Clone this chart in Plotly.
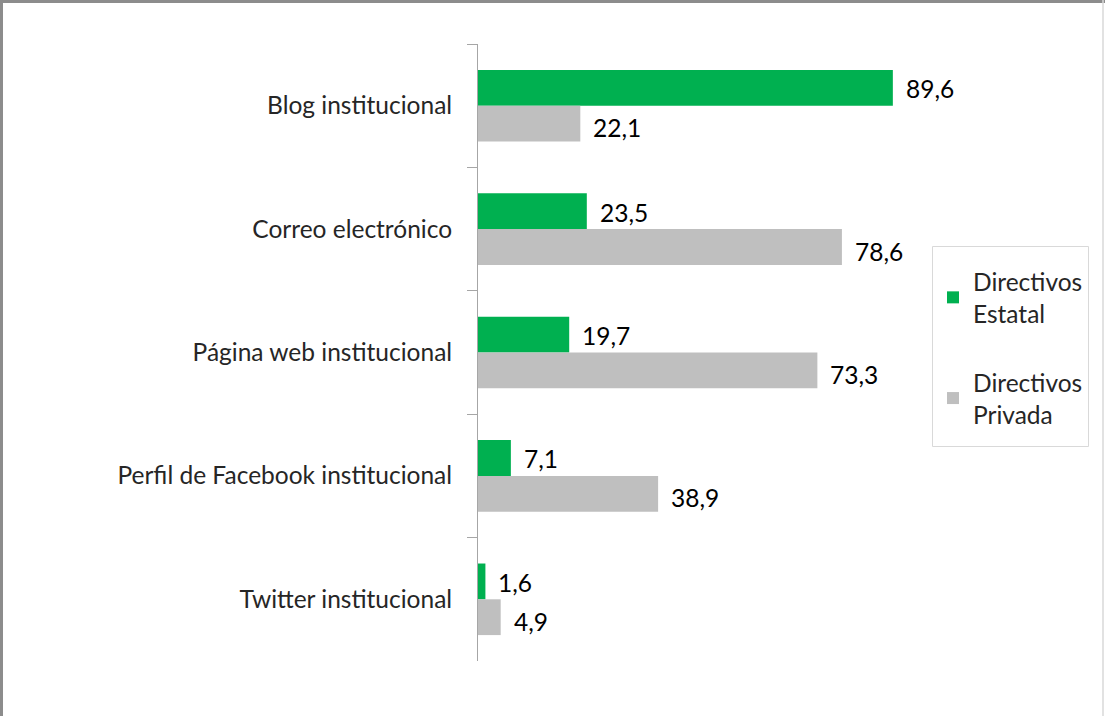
import plotly.graph_objects as go

categories = ["Blog institucional", "Correo electrónico", "Página web institucional",
              "Perfil de Facebook institucional", "Twitter institucional"]
estatal = [89.6, 23.5, 19.7, 7.1, 1.6]
privada = [22.1, 78.6, 73.3, 38.9, 4.9]
series_names = ["Directivos<br>Estatal", "Directivos<br>Privada"]
colors = ["#00B050", "#BFBFBF"]

W, H = 1105, 716
ml, mr, mt, mb = 478, 164, 44, 55
PW, PH = W - ml - mr, H - mt - mb
FONT = "Lato"
FS = 24.5


def px_x(x):
    return (x - ml) / PW


def px_y(y):
    return 1 - (y - mt) / PH


fig = go.Figure()
for i, (vals, name, col) in enumerate(zip([estatal, privada], series_names, colors)):
    fig.add_trace(go.Bar(
        y=categories, x=vals, orientation="h", name=name, legendgroup=f"g{i}",
        marker=dict(color=col, line=dict(width=0)),
    ))

# value labels
for vals, ys in zip([estatal, privada], [17, -22]):
    for c, v in zip(categories, vals):
        fig.add_annotation(
            x=v, y=c, text=f"{v:.1f}".replace(".", ","), showarrow=False,
            xanchor="left", xshift=11, yshift=ys,
            font=dict(family=FONT, size=FS, color="#000000"),
        )

# chart border (top, left, right)
fig.add_shape(type="line", xref="paper", yref="paper",
              x0=px_x(0), x1=px_x(W), y0=px_y(1.5), y1=px_y(1.5),
              line=dict(color="#8C8C8C", width=3))
fig.add_shape(type="line", xref="paper", yref="paper",
              x0=px_x(1.5), x1=px_x(1.5), y0=px_y(H), y1=px_y(0),
              line=dict(color="#8C8C8C", width=3))
fig.add_shape(type="line", xref="paper", yref="paper",
              x0=px_x(W - 2), x1=px_x(W - 2), y0=px_y(H), y1=px_y(0),
              line=dict(color="#D9D9D9", width=1.5))
# legend frame
fig.add_shape(type="rect", xref="paper", yref="paper", layer="below",
              x0=px_x(932.5), x1=px_x(1088.5), y0=px_y(446.5), y1=px_y(246.5),
              line=dict(color="#D9D9D9", width=1), fillcolor="white")

fig.update_layout(
    width=W, height=H, autosize=False,
    margin=dict(l=ml, r=mr, t=mt, b=mb, pad=0, autoexpand=False),
    paper_bgcolor="white", plot_bgcolor="rgba(0,0,0,0)",
    barmode="group", bargap=0.42, bargroupgap=0,
    separators=",.",
    font=dict(family=FONT, size=FS, color="#262626"),
    showlegend=True,
    legend=dict(
        xref="container", yref="container",
        x=933 / W, y=1 - 259 / H, xanchor="left", yanchor="top",
        borderwidth=0, bgcolor="rgba(0,0,0,0)",
        font=dict(family=FONT, size=FS, color="#262626"),
        tracegroupgap=34, itemwidth=30,
    ),
    xaxis=dict(range=[0, 100], showgrid=False, zeroline=False,
               showticklabels=False, ticks="", showline=False),
    yaxis=dict(autorange="reversed", type="category", showgrid=False,
               showline=True, linecolor="#A6A6A6", linewidth=1,
               ticks="outside", ticklen=10, tickcolor="#A6A6A6",
               tickson="boundaries", ticklabelstandoff=20,
               tickfont=dict(family=FONT, size=FS, color="#262626")),
)

fig.write_html(
    "out.html",
    config={"responsive": False, "displayModeBar": False},
    post_script="document.body.style.margin='0';document.body.style.overflow='hidden';",
)
